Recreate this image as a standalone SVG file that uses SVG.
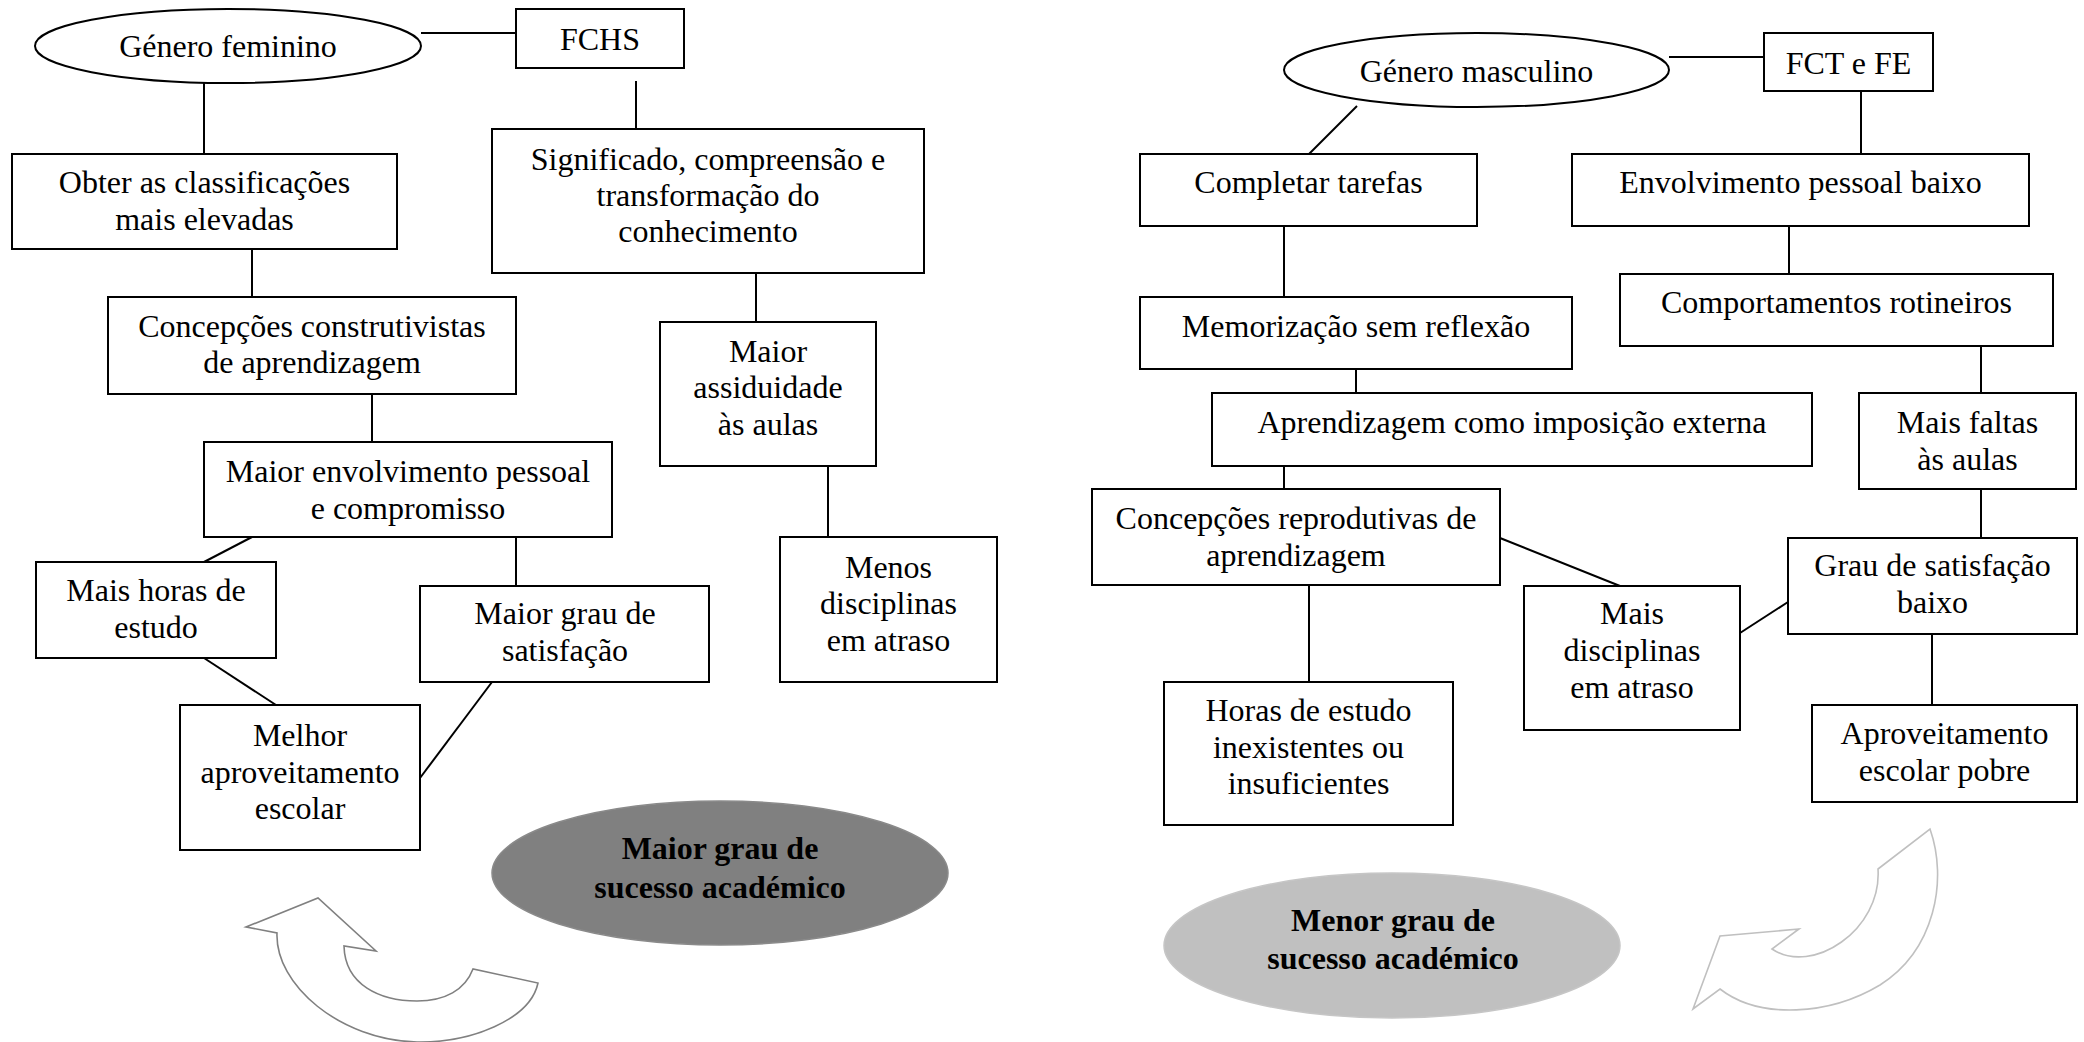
<svg xmlns="http://www.w3.org/2000/svg" width="2084" height="1042" viewBox="0 0 2084 1042">
  <style>
    .box { fill: #ffffff; stroke: #000000; stroke-width: 2; }
    .oval { fill: #ffffff; stroke: #000000; stroke-width: 2; }
    .lbl { font-family: "Liberation Serif", "Times New Roman", serif; font-size: 32px; fill: #000000; text-anchor: middle; }
    .bold { font-weight: bold; }
    .link { stroke: #000000; stroke-width: 2; fill: none; }
    .cycle-dark { fill: #ffffff; stroke: #808080; stroke-width: 1.6; stroke-linejoin: miter; }
    .cycle-light { fill: #ffffff; stroke: #c0c0c0; stroke-width: 1.6; stroke-linejoin: miter; }
  </style>
  <rect x="0" y="0" width="2084" height="1042" fill="#ffffff"/>

  <!-- connectors -->
  <g id="connectors">
    <line class="link" x1="421" y1="33" x2="516" y2="33"/>
    <line class="link" x1="204" y1="82" x2="204" y2="154"/>
    <line class="link" x1="636" y1="81" x2="636" y2="129"/>
    <line class="link" x1="252" y1="249" x2="252" y2="297"/>
    <line class="link" x1="756" y1="273" x2="756" y2="322"/>
    <line class="link" x1="372" y1="394" x2="372" y2="442"/>
    <line class="link" x1="828" y1="466" x2="828" y2="537"/>
    <line class="link" x1="252" y1="537" x2="204" y2="562"/>
    <line class="link" x1="516" y1="537" x2="516" y2="586"/>
    <line class="link" x1="204" y1="658" x2="276" y2="705"/>
    <line class="link" x1="492" y1="682" x2="420" y2="778"/>

    <line class="link" x1="1669" y1="57" x2="1764" y2="57"/>
    <line class="link" x1="1861" y1="81" x2="1861" y2="154"/>
    <line class="link" x1="1357" y1="106" x2="1309" y2="154"/>
    <line class="link" x1="1789" y1="226" x2="1789" y2="274"/>
    <line class="link" x1="1284" y1="226" x2="1284" y2="297"/>
    <line class="link" x1="1981" y1="346" x2="1981" y2="393"/>
    <line class="link" x1="1356" y1="369" x2="1356" y2="393"/>
    <line class="link" x1="1284" y1="466" x2="1284" y2="489"/>
    <line class="link" x1="1981" y1="489" x2="1981" y2="538"/>
    <line class="link" x1="1500" y1="538" x2="1620" y2="586"/>
    <line class="link" x1="1309" y1="585" x2="1309" y2="682"/>
    <line class="link" x1="1740" y1="633" x2="1788" y2="602"/>
    <line class="link" x1="1932" y1="634" x2="1932" y2="705"/>
  </g>

  <!-- female branch -->
  <g id="genero-feminino">
    <ellipse class="oval" cx="228" cy="46" rx="193" ry="37"/>
    <text class="lbl" x="228" y="57">Género feminino</text>
  </g>
  <g id="fchs">
    <rect class="box" x="516" y="9" width="168" height="59"/>
    <text class="lbl" x="600" y="50">FCHS</text>
  </g>
  <g id="obter-classificacoes">
    <rect class="box" x="12" y="154" width="385" height="95"/>
    <text class="lbl" x="204.5" y="193">Obter as classificações</text>
    <text class="lbl" x="204.5" y="230">mais elevadas</text>
  </g>
  <g id="significado">
    <rect class="box" x="492" y="129" width="432" height="144"/>
    <text class="lbl" x="708" y="170">Significado, compreensão e</text>
    <text class="lbl" x="708" y="206">transformação do</text>
    <text class="lbl" x="708" y="242">conhecimento</text>
  </g>
  <g id="concepcoes-construtivistas">
    <rect class="box" x="108" y="297" width="408" height="97"/>
    <text class="lbl" x="312" y="337">Concepções construtivistas</text>
    <text class="lbl" x="312" y="373">de aprendizagem</text>
  </g>
  <g id="maior-envolvimento">
    <rect class="box" x="204" y="442" width="408" height="95"/>
    <text class="lbl" x="408" y="482">Maior envolvimento pessoal</text>
    <text class="lbl" x="408" y="519">e compromisso</text>
  </g>
  <g id="maior-assiduidade">
    <rect class="box" x="660" y="322" width="216" height="144"/>
    <text class="lbl" x="768" y="362">Maior</text>
    <text class="lbl" x="768" y="398">assiduidade</text>
    <text class="lbl" x="768" y="435">às aulas</text>
  </g>
  <g id="menos-disciplinas">
    <rect class="box" x="780" y="537" width="217" height="145"/>
    <text class="lbl" x="888.5" y="578">Menos</text>
    <text class="lbl" x="888.5" y="614">disciplinas</text>
    <text class="lbl" x="888.5" y="651">em atraso</text>
  </g>
  <g id="mais-horas">
    <rect class="box" x="36" y="562" width="240" height="96"/>
    <text class="lbl" x="156" y="601">Mais horas de</text>
    <text class="lbl" x="156" y="638">estudo</text>
  </g>
  <g id="maior-satisfacao">
    <rect class="box" x="420" y="586" width="289" height="96"/>
    <text class="lbl" x="565" y="624">Maior grau de</text>
    <text class="lbl" x="565" y="661">satisfação</text>
  </g>
  <g id="melhor-aproveitamento">
    <rect class="box" x="180" y="705" width="240" height="145"/>
    <text class="lbl" x="300" y="746">Melhor</text>
    <text class="lbl" x="300" y="783">aproveitamento</text>
    <text class="lbl" x="300" y="819">escolar</text>
  </g>
  <g id="maior-sucesso">
    <ellipse cx="720" cy="873" rx="228" ry="72" fill="#808080" stroke="#8a8a8a" stroke-width="1.5"/>
    <text class="lbl bold" x="720" y="859">Maior grau de</text>
    <text class="lbl bold" x="720" y="898">sucesso académico</text>
  </g>
  <g id="ciclo-esquerdo">
    <path class="cycle-dark" d="M277,933 C275,985 340,1040 417,1042 C470,1043 530,1020 538,983 L473,969 C465,990 445,1001 417,1001 C380,1001 345,985 344,946 L376,951 L318,898 L246,927 Z"/>
  </g>

  <!-- male branch -->
  <g id="genero-masculino">
    <ellipse class="oval" cx="1476.5" cy="70" rx="192.5" ry="37"/>
    <text class="lbl" x="1476.5" y="82">Género masculino</text>
  </g>
  <g id="fct-fe">
    <rect class="box" x="1764" y="33" width="169" height="58"/>
    <text class="lbl" x="1848.5" y="74">FCT e FE</text>
  </g>
  <g id="completar-tarefas">
    <rect class="box" x="1140" y="154" width="337" height="72"/>
    <text class="lbl" x="1308.5" y="193">Completar tarefas</text>
  </g>
  <g id="envolvimento-baixo">
    <rect class="box" x="1572" y="154" width="457" height="72"/>
    <text class="lbl" x="1800.5" y="193">Envolvimento pessoal baixo</text>
  </g>
  <g id="memorizacao">
    <rect class="box" x="1140" y="297" width="432" height="72"/>
    <text class="lbl" x="1356" y="337">Memorização sem reflexão</text>
  </g>
  <g id="comportamentos">
    <rect class="box" x="1620" y="274" width="433" height="72"/>
    <text class="lbl" x="1836.5" y="313">Comportamentos rotineiros</text>
  </g>
  <g id="aprendizagem-imposicao">
    <rect class="box" x="1212" y="393" width="600" height="73"/>
    <text class="lbl" x="1512" y="433">Aprendizagem como imposição externa</text>
  </g>
  <g id="mais-faltas">
    <rect class="box" x="1859" y="393" width="217" height="96"/>
    <text class="lbl" x="1967.5" y="433">Mais faltas</text>
    <text class="lbl" x="1967.5" y="470">às aulas</text>
  </g>
  <g id="concepcoes-reprodutivas">
    <rect class="box" x="1092" y="489" width="408" height="96"/>
    <text class="lbl" x="1296" y="529">Concepções reprodutivas de</text>
    <text class="lbl" x="1296" y="566">aprendizagem</text>
  </g>
  <g id="horas-inexistentes">
    <rect class="box" x="1164" y="682" width="289" height="143"/>
    <text class="lbl" x="1308.5" y="721">Horas de estudo</text>
    <text class="lbl" x="1308.5" y="758">inexistentes ou</text>
    <text class="lbl" x="1308.5" y="794">insuficientes</text>
  </g>
  <g id="mais-disciplinas">
    <rect class="box" x="1524" y="586" width="216" height="144"/>
    <text class="lbl" x="1632" y="624">Mais</text>
    <text class="lbl" x="1632" y="661">disciplinas</text>
    <text class="lbl" x="1632" y="698">em atraso</text>
  </g>
  <g id="satisfacao-baixa">
    <rect class="box" x="1788" y="538" width="289" height="96"/>
    <text class="lbl" x="1932.5" y="576">Grau de satisfação</text>
    <text class="lbl" x="1932.5" y="613">baixo</text>
  </g>
  <g id="aproveitamento-pobre">
    <rect class="box" x="1812" y="705" width="265" height="97"/>
    <text class="lbl" x="1944.5" y="744">Aproveitamento</text>
    <text class="lbl" x="1944.5" y="781">escolar pobre</text>
  </g>
  <g id="menor-sucesso">
    <ellipse cx="1392" cy="945.5" rx="228" ry="72.5" fill="#c0c0c0" stroke="#c6c6c6" stroke-width="1.5"/>
    <text class="lbl bold" x="1393" y="931">Menor grau de</text>
    <text class="lbl bold" x="1393" y="969">sucesso académico</text>
  </g>
  <g id="ciclo-direito">
    <path class="cycle-light" d="M1878,869 L1930,829 C1948,880 1935,950 1880,985 C1830,1015 1760,1020 1720,989 L1693,1009 L1720,936 L1799,929 L1772,949 C1812,976 1882,930 1878,869 Z"/>
  </g>
</svg>
